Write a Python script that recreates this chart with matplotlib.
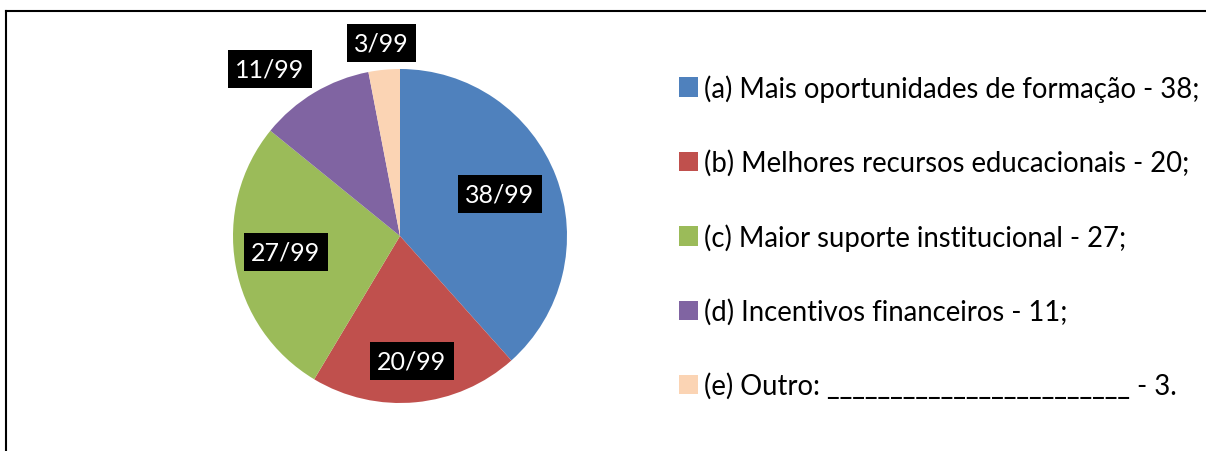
import numpy as np
import matplotlib.pyplot as plt
from matplotlib.lines import Line2D

plt.rcParams['font.family'] = ['Lato', 'DejaVu Sans']

values = [38, 20, 27, 11, 3]
total = 99
names = ['(a) Mais oportunidades de formação - 38;',
         '(b) Melhores recursos educacionais - 20;',
         '(c) Maior suporte institucional - 27;',
         '(d) Incentivos financeiros - 11;',
         '(e) Outro: ________________________ - 3.']
colors = ['#4F81BD', '#C0504D', '#9BBB59', '#8064A2', '#FBD4B4']
label_r = [0.65, 0.75, 0.69, 1.27, 1.16]
label_shift = [2, 0, -2, 7, 0]

W, H = 1206, 452
fig = plt.figure(figsize=(W / 100, H / 100), dpi=100)

# frame (top and left visible)
fig.add_artist(Line2D([6 / W, 6 / W], [0, 1 - 12 / H], color='black', lw=1.5))
fig.add_artist(Line2D([6 / W, 1], [1 - 12 / H, 1 - 12 / H], color='black', lw=1.5))

cx, cy, r = 400, 237, 167
ax = fig.add_axes([(cx - r) / W, (H - cy - r) / H, 2 * r / W, 2 * r / H])
wedges, _ = ax.pie(values, colors=colors, startangle=90, counterclock=False,
                   radius=1, wedgeprops=dict(linewidth=0))
ax.set_xlim(-1, 1)
ax.set_ylim(-1, 1)
ax.set_aspect('equal')
ax.axis('off')

cum = np.cumsum([0] + values[:-1])
for v, c0, lr, sh in zip(values, cum, label_r, label_shift):
    ang = np.deg2rad(90 - (c0 + v / 2) / total * 360 + sh)
    ax.text(lr * np.cos(ang), lr * np.sin(ang), f'{v}/{total}', color='white',
            fontsize=18, ha='center', va='center', clip_on=False,
            bbox=dict(boxstyle='square,pad=0.3', fc='black', ec='none'))

handles = [plt.Rectangle((0, 0), 1, 1, fc=c, ec='none') for c in colors]
fig.legend(handles, names, loc='upper left', bbox_to_anchor=(668 / W, 1 - 64 / H),
           frameon=False, fontsize=19.8, labelspacing=1.72, handlelength=0.7,
           handleheight=0.7, handletextpad=0.2, borderaxespad=0)

fig.savefig('out.png', dpi=100)
